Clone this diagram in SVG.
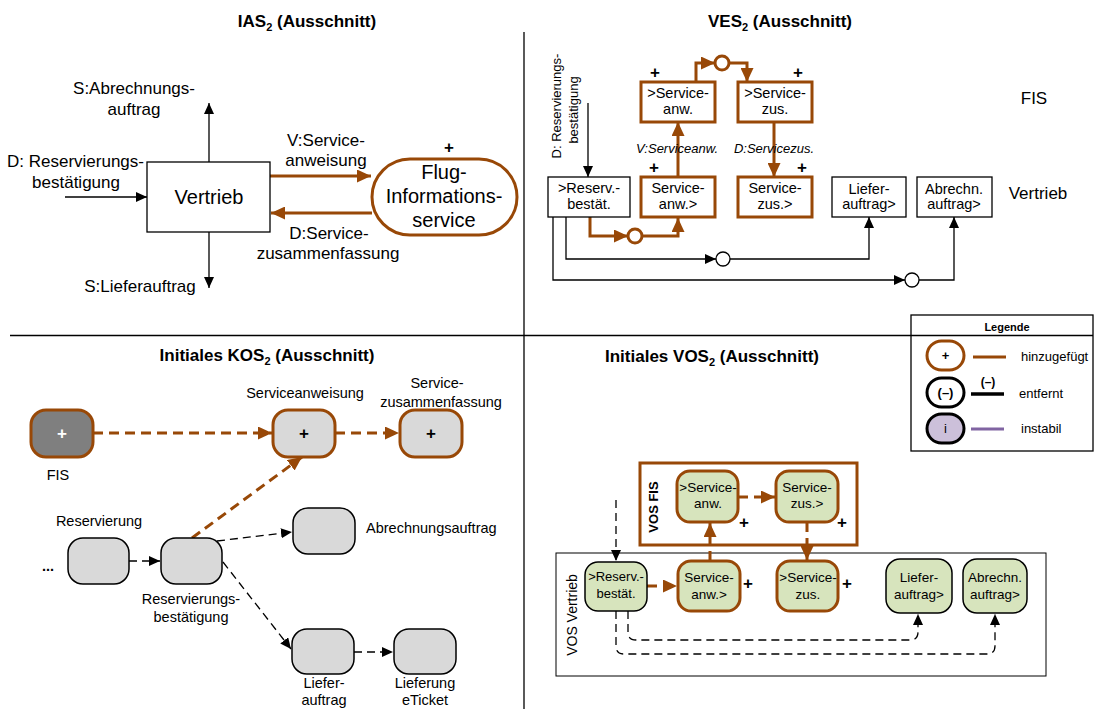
<svg xmlns="http://www.w3.org/2000/svg" width="1095" height="709" viewBox="0 0 1095 709">
<style>
text{font-family:"Liberation Sans",Arial,sans-serif;fill:#000}
.title{font-size:17px;font-weight:bold;text-anchor:middle}
.l17{font-size:17px}
.l20{font-size:20px;text-anchor:middle}
.m{text-anchor:middle}
.b14{font-size:14.5px;text-anchor:middle}
.b13{font-size:13.5px;text-anchor:middle}
.plus{font-size:17px;font-weight:bold;text-anchor:middle}
.bk{fill:none;stroke:#000;stroke-width:1.3}
.br{fill:none;stroke:#984807;stroke-width:3}
.brd{fill:none;stroke:#984807;stroke-width:3;stroke-dasharray:10,6}
.bkd{fill:none;stroke:#000;stroke-width:1.3;stroke-dasharray:8,5}
.boxw{fill:#fff;stroke:#000;stroke-width:1.3}
.boxbr{fill:#fff;stroke:#984807;stroke-width:3}
.kg{fill:#d9d9d9;stroke:#000;stroke-width:1.5}
.kgb{fill:#d9d9d9;stroke:#984807;stroke-width:3}
.vg{fill:#d7e4bd;stroke:#000;stroke-width:1.5}
.vgb{fill:#d7e4bd;stroke:#984807;stroke-width:3}
</style>
<defs>
<marker id="ab" markerUnits="userSpaceOnUse" markerWidth="11" markerHeight="10" refX="11" refY="5" orient="auto"><path d="M0,0 L11,5 L0,10 z" fill="#000"/></marker>
<marker id="abr" markerUnits="userSpaceOnUse" markerWidth="14" markerHeight="13" refX="14" refY="6.5" orient="auto"><path d="M0,0 L14,6.5 L0,13 z" fill="#984807"/></marker>
</defs>
<rect width="1095" height="709" fill="#fff"/>

<!-- dividers -->
<g id="dividers">
<line x1="524" y1="32" x2="524" y2="709" stroke="#000" stroke-width="1.3"/>
<line x1="10" y1="335.5" x2="1093" y2="335.5" stroke="#000" stroke-width="1.3"/>
</g>

<!-- titles -->
<text class="title" x="307" y="27">IAS<tspan font-size="11" dy="4">2</tspan><tspan dy="-4"> (Ausschnitt)</tspan></text>
<text class="title" x="780" y="27">VES<tspan font-size="11" dy="4">2</tspan><tspan dy="-4"> (Ausschnitt)</tspan></text>
<text class="title" x="267" y="361">Initiales KOS<tspan font-size="11" dy="4">2</tspan><tspan dy="-4"> (Ausschnitt)</tspan></text>
<text class="title" x="712" y="362">Initiales VOS<tspan font-size="11" dy="4">2</tspan><tspan dy="-4"> (Ausschnitt)</tspan></text>

<!-- ===== IAS ===== -->
<g id="ias-connectors">
<line class="bk" x1="209" y1="162" x2="209" y2="103" marker-end="url(#ab)"/>
<line class="bk" x1="209" y1="232" x2="209" y2="288" marker-end="url(#ab)"/>
<line class="bk" x1="65" y1="197" x2="147" y2="197" marker-end="url(#ab)"/>
<line class="br" x1="270" y1="176" x2="371" y2="176" marker-end="url(#abr)"/>
<line class="br" x1="372" y1="213" x2="271" y2="213" marker-end="url(#abr)"/>
<text class="l17 m" x="134" y="94">S:Abrechnungs-</text>
<text class="l17 m" x="134" y="115">auftrag</text>
<text class="l17" x="7" y="167">D: Reservierungs-</text>
<text class="l17 m" x="76" y="188">bestätigung</text>
<text class="l17 m" x="140" y="292">S:Lieferauftrag</text>
<text class="l17 m" x="326" y="146">V:Service-</text>
<text class="l17 m" x="326" y="166">anweisung</text>
<text class="l17 m" x="329" y="239">D:Service-</text>
<text class="l17 m" x="328" y="259">zusammenfassung</text>
</g>
<g id="ias-vertrieb">
<rect class="boxw" x="147" y="162" width="123" height="70"/>
<text class="l20" x="209" y="204">Vertrieb</text>
</g>
<g id="ias-fis">
<rect class="boxbr" x="372" y="159" width="145" height="76" rx="38"/>
<text class="l20" x="444" y="179">Flug-</text>
<text class="l20" x="444" y="203">Informations-</text>
<text class="l20" x="444" y="227">service</text>
<text class="plus" x="449" y="153">+</text>
</g>

<!-- ===== VES ===== -->
<g id="ves-connectors">
<line class="bk" x1="588" y1="103" x2="588" y2="177" marker-end="url(#ab)"/>
<path class="br" d="M590,217 V236 H628" marker-end="url(#abr)"/>
<circle cx="635" cy="236" r="7" fill="#fff" stroke="#984807" stroke-width="3"/>
<path class="br" d="M642,236 H678 V218" marker-end="url(#abr)"/>
<line class="br" x1="678" y1="177" x2="678" y2="122" marker-end="url(#abr)"/>
<line class="br" x1="774" y1="122" x2="774" y2="177" marker-end="url(#abr)"/>
<path class="br" d="M696,82 V63 H715" marker-end="url(#abr)"/>
<circle cx="722" cy="63" r="7" fill="#fff" stroke="#984807" stroke-width="3"/>
<path class="br" d="M729,63 H747 V82" marker-end="url(#abr)"/>
<path class="bk" d="M566,217 V259 H716" marker-end="url(#ab)"/>
<circle cx="723" cy="259" r="7" fill="#fff" stroke="#000" stroke-width="1.3"/>
<path class="bk" d="M730,259 H869 V217" marker-end="url(#ab)"/>
<path class="bk" d="M553,217 V280 H905" marker-end="url(#ab)"/>
<circle cx="912" cy="280" r="7" fill="#fff" stroke="#000" stroke-width="1.3"/>
<path class="bk" d="M919,280 H954 V217" marker-end="url(#ab)"/>
<text font-size="13" text-anchor="middle" transform="translate(561,106) rotate(-90)">D: Reservierungs-</text>
<text font-size="13" text-anchor="middle" transform="translate(578,110) rotate(-90)">bestätigung</text>
<text font-size="13" font-style="italic" text-anchor="middle" x="677" y="153">V:Serviceanw.</text>
<text font-size="13" font-style="italic" text-anchor="middle" x="774" y="153">D:Servicezus.</text>
</g>
<g id="ves-reserv">
<rect class="boxw" x="548" y="177" width="82" height="40"/>
<text class="b14" x="589" y="193">&gt;Reserv.-</text>
<text class="b14" x="589" y="209">bestät.</text>
</g>
<g id="ves-anw-out">
<rect class="boxbr" x="641" y="177" width="74" height="40"/>
<text class="b14" x="678" y="193">Service-</text>
<text class="b14" x="678" y="209">anw.&gt;</text>
<text class="plus" x="654" y="173">+</text>
</g>
<g id="ves-anw-in">
<rect class="boxbr" x="641" y="82" width="74" height="40"/>
<text class="b14" x="678" y="98">&gt;Service-</text>
<text class="b14" x="678" y="114">anw.</text>
<text class="plus" x="655" y="78">+</text>
</g>
<g id="ves-zus-in">
<rect class="boxbr" x="738" y="82" width="74" height="40"/>
<text class="b14" x="775" y="98">&gt;Service-</text>
<text class="b14" x="775" y="114">zus.</text>
<text class="plus" x="798" y="78">+</text>
</g>
<g id="ves-zus-out">
<rect class="boxbr" x="738" y="177" width="74" height="40"/>
<text class="b14" x="775" y="193">Service-</text>
<text class="b14" x="775" y="209">zus.&gt;</text>
<text class="plus" x="802" y="173">+</text>
</g>
<g id="ves-liefer">
<rect class="boxw" x="832" y="177" width="74" height="40"/>
<text class="b14" x="869" y="194">Liefer-</text>
<text class="b14" x="869" y="209">auftrag&gt;</text>
</g>
<g id="ves-abrechn">
<rect class="boxw" x="917" y="177" width="75" height="40"/>
<text class="b14" x="954" y="194">Abrechn.</text>
<text class="b14" x="954" y="209">auftrag&gt;</text>
</g>
<text class="l17 m" x="1034" y="104">FIS</text>
<text class="l17 m" x="1038" y="199">Vertrieb</text>

<!-- ===== KOS ===== -->
<g id="kos-connectors">
<line class="brd" x1="93" y1="433" x2="272" y2="433" marker-end="url(#abr)"/>
<line class="brd" x1="335" y1="433" x2="399" y2="433" marker-end="url(#abr)"/>
<line class="brd" x1="192" y1="538" x2="302" y2="457" marker-end="url(#abr)"/>
<line class="bkd" x1="129" y1="561" x2="160" y2="561" marker-end="url(#ab)"/>
<line class="bkd" x1="217" y1="541" x2="292" y2="532" marker-end="url(#ab)"/>
<line class="bkd" x1="223" y1="562" x2="291" y2="649" marker-end="url(#ab)"/>
<line class="bkd" x1="354" y1="652" x2="393" y2="652" marker-end="url(#ab)"/>
</g>
<g id="kos-fis">
<rect x="31" y="410" width="62" height="47" rx="15" fill="#7f7f7f" stroke="#984807" stroke-width="3"/>
<text class="plus" x="62" y="439" fill="#fff" style="fill:#fff">+</text>
<text class="b14" x="58" y="480">FIS</text>
</g>
<g id="kos-serviceanweisung">
<rect class="kgb" x="273" y="410" width="62" height="47" rx="15"/>
<text class="plus" x="304" y="439">+</text>
<text class="b14" x="305" y="398">Serviceanweisung</text>
</g>
<g id="kos-servicezusammenfassung">
<rect class="kgb" x="400" y="410" width="62" height="47" rx="15"/>
<text class="plus" x="431" y="439">+</text>
<text class="b14" x="437" y="388">Service-</text>
<text class="b14" x="441" y="407">zusammenfassung</text>
</g>
<g id="kos-reservierung">
<rect class="kg" x="68" y="538" width="61" height="46" rx="15"/>
<text class="b14" x="99" y="526">Reservierung</text>
<text font-size="14.5" font-weight="bold" text-anchor="middle" x="48" y="571">...</text>
</g>
<g id="kos-reservierungsbestaetigung">
<rect class="kg" x="161" y="538" width="61" height="46" rx="15"/>
<text class="b14" x="191" y="604">Reservierungs-</text>
<text class="b14" x="191" y="622">bestätigung</text>
</g>
<g id="kos-abrechnungsauftrag">
<rect class="kg" x="293" y="508" width="62" height="46" rx="15"/>
<text font-size="14.5" x="366" y="533">Abrechnungsauftrag</text>
</g>
<g id="kos-lieferauftrag">
<rect class="kg" x="292" y="629" width="62" height="45" rx="15"/>
<text class="b14" x="324" y="688">Liefer-</text>
<text class="b14" x="324" y="705">auftrag</text>
</g>
<g id="kos-lieferung">
<rect class="kg" x="394" y="629" width="62" height="45" rx="15"/>
<text class="b14" x="425" y="688">Lieferung</text>
<text class="b14" x="425" y="705">eTicket</text>
</g>

<!-- ===== VOS ===== -->
<g id="vos-fis-pool">
<rect x="640" y="463" width="217" height="82" fill="#fff" stroke="#984807" stroke-width="3"/>
<text font-size="13" font-weight="bold" text-anchor="middle" transform="translate(658,507) rotate(-90)">VOS FIS</text>
</g>
<g id="vos-vertrieb-pool">
<rect x="556" y="553" width="490" height="123" fill="none" stroke="#000" stroke-width="1"/>
<text font-size="14" text-anchor="middle" transform="translate(577,615) rotate(-90)">VOS Vertrieb</text>
</g>
<g id="vos-connectors">
<line class="bkd" x1="616" y1="500" x2="616" y2="561" marker-end="url(#ab)"/>
<line class="brd" x1="647" y1="586" x2="677" y2="586" marker-end="url(#abr)"/>
<line class="brd" x1="710" y1="561" x2="710" y2="523" marker-end="url(#abr)"/>
<line class="brd" x1="738" y1="497" x2="775" y2="497" marker-end="url(#abr)"/>
<line class="brd" x1="807" y1="522" x2="807" y2="560" marker-end="url(#abr)"/>
<path class="bkd" d="M628,611 V632 Q628,640 636,640 H910 Q918,640 918,632 V614" marker-end="url(#ab)"/>
<path class="bkd" d="M616,611 V646 Q616,654 624,654 H987 Q995,654 995,646 V614" marker-end="url(#ab)"/>
</g>
<g id="vos-anw-in">
<rect class="vgb" x="677" y="471" width="61" height="51" rx="13"/>
<text class="b13" x="708" y="492">&gt;Service-</text>
<text class="b13" x="708" y="508">anw.</text>
<text class="plus" x="744" y="528">+</text>
</g>
<g id="vos-zus-out">
<rect class="vgb" x="776" y="471" width="62" height="51" rx="13"/>
<text class="b13" x="807" y="492">Service-</text>
<text class="b13" x="807" y="508">zus.&gt;</text>
<text class="plus" x="842" y="528">+</text>
</g>
<g id="vos-reserv">
<rect class="vg" x="585" y="562" width="62" height="49" rx="13"/>
<text font-size="13" text-anchor="middle" x="616" y="581">&gt;Reserv.-</text>
<text font-size="13" text-anchor="middle" x="616" y="598">bestät.</text>
</g>
<g id="vos-anw-out">
<rect class="vgb" x="678" y="561" width="62" height="50" rx="13"/>
<text class="b13" x="709" y="582">Service-</text>
<text class="b13" x="709" y="599">anw.&gt;</text>
<text class="plus" x="748" y="589">+</text>
</g>
<g id="vos-zus-in">
<rect class="vgb" x="777" y="561" width="61" height="50" rx="13"/>
<text class="b13" x="808" y="582">&gt;Service-</text>
<text class="b13" x="808" y="599">zus.</text>
<text class="plus" x="847" y="589">+</text>
</g>
<g id="vos-liefer">
<rect class="vg" x="886" y="559" width="66" height="54" rx="14"/>
<text class="b13" x="919" y="582">Liefer-</text>
<text class="b13" x="919" y="599">auftrag&gt;</text>
</g>
<g id="vos-abrechn">
<rect class="vg" x="963" y="559" width="64" height="54" rx="14"/>
<text class="b13" x="995" y="582">Abrechn.</text>
<text class="b13" x="995" y="599">auftrag&gt;</text>
</g>

<!-- ===== Legend ===== -->
<g id="legend">
<rect x="911" y="315" width="182" height="136" fill="#fff" stroke="#000" stroke-width="1.3"/>
<line x1="911" y1="335.5" x2="1093" y2="335.5" stroke="#000" stroke-width="1.3"/>
<text font-size="11" font-weight="bold" text-anchor="middle" x="1007" y="331">Legende</text>
<rect x="927" y="341" width="37" height="29" rx="14.5" fill="#fff" stroke="#984807" stroke-width="3"/>
<text font-size="13" font-weight="bold" text-anchor="middle" x="945.5" y="360">+</text>
<line x1="973" y1="357" x2="1006" y2="357" stroke="#984807" stroke-width="3"/>
<text font-size="13" x="1021" y="361">hinzugefügt</text>
<rect x="927" y="378" width="37" height="29" rx="14.5" fill="#fff" stroke="#000" stroke-width="3"/>
<text font-size="13" font-weight="bold" text-anchor="middle" x="945.5" y="397">(–)</text>
<line x1="971" y1="394" x2="1004" y2="394" stroke="#000" stroke-width="3.5"/>
<text font-size="12" font-weight="bold" text-anchor="middle" x="988" y="386">(–)</text>
<text font-size="13" x="1019" y="398">entfernt</text>
<rect x="927" y="414" width="37" height="29" rx="14.5" fill="#ccc0da" stroke="#000" stroke-width="3"/>
<text font-size="13" text-anchor="middle" x="945.5" y="433">i</text>
<line x1="971" y1="429" x2="1004" y2="429" stroke="#8064a2" stroke-width="3"/>
<text font-size="13" x="1021" y="433">instabil</text>
</g>
</svg>
